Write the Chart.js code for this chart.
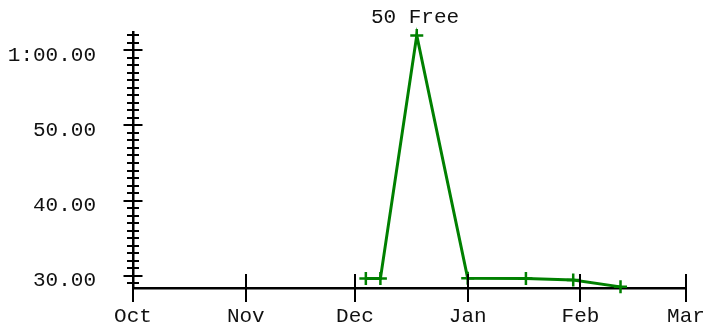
<!DOCTYPE html>
<html>
<head>
<meta charset="utf-8">
<script src="https://cdn.jsdelivr.net/npm/chart.js@4"></script>
<style>
  html, body { margin: 0; padding: 0; background: #fff; }
  #wrap { width: 706px; height: 329px; }
</style>
</head>
<body>
<div id="wrap"><canvas id="c" width="706" height="329"></canvas></div>
<script>
// 50 free times across the season (seconds)
const chartTitle = '50 Free';
const swimDates = ['2015-12-04', '2015-12-08', '2015-12-18', '2016-01-01', '2016-01-17', '2016-01-30', '2016-02-12'];
const swimTimes = [29.6, 29.6, 62.0, 29.65, 29.6, 29.4, 28.5];

// x axis: month starts as days since Oct 1
const seasonStart = '2015-10-01';
const monthDays = [0, 31, 61, 92, 123, 152];
const monthLabels = ['Oct', 'Nov', 'Dec', 'Jan', 'Feb', 'Mar'];

// y axis: labelled every 10s, small tick every second
const yMajor = [30, 40, 50, 60];
const yMajorLabels = ['30.00', '40.00', '50.00', '1:00.00'];
const yMin = 28.35, yMax = 62.45;

const FONT = "'Liberation Mono', 'Courier New', monospace";
const GREEN = '#008000';

function dayOf(s) {
    return (Date.parse(s + 'T00:00:00Z') - Date.parse(seasonStart + 'T00:00:00Z')) / 86400000;
}

const points = swimDates.map((d, i) => ({ x: dayOf(d), y: swimTimes[i] }));

// no extra room for edge labels, the plot box is set by layout padding
function noPad(s) {
    s.paddingLeft = s.paddingRight = s.paddingTop = s.paddingBottom = 0;
}

// tick marks that cross the axis lines, plus the title
const axisMarks = {
    id: 'axisMarks',
    afterDraw(chart) {
        const ctx = chart.ctx;
        const xs = chart.scales.x, ys = chart.scales.y;
        const ax = chart.chartArea.left, ay = chart.chartArea.bottom;
        ctx.save();
        ctx.strokeStyle = '#000';
        ctx.lineWidth = 2;
        ctx.beginPath();
        ys.ticks.forEach(t => {
            const py = Math.round(ys.getPixelForValue(t.value));
            const h = yMajor.includes(t.value) ? 9.5 : 6;
            ctx.moveTo(ax - h, py);
            ctx.lineTo(ax + h, py);
        });
        xs.ticks.forEach(t => {
            const px = Math.round(xs.getPixelForValue(t.value));
            ctx.moveTo(px, ay - 14);
            ctx.lineTo(px, ay + 14);
        });
        ctx.stroke();

        ctx.fillStyle = '#111';
        ctx.font = '21px ' + FONT;
        ctx.textAlign = 'center';
        ctx.textBaseline = 'alphabetic';
        ctx.fillText(chartTitle, 415, 23);
        ctx.restore();
    }
};

new Chart(document.getElementById('c'), {
    type: 'line',
    data: {
        datasets: [{
            data: points,
            borderColor: GREEN,
            backgroundColor: GREEN,
            borderWidth: 3,
            tension: 0,
            fill: false,
            pointStyle: 'cross',
            pointRadius: 6.5,
            pointBorderWidth: 2.5,
            pointBorderColor: GREEN,
            clip: false
        }]
    },
    options: {
        responsive: false,
        animation: false,
        events: [],
        layout: { padding: { left: 0, right: 20, top: 32, bottom: 0 } },
        plugins: { legend: { display: false }, tooltip: { enabled: false }, title: { display: false } },
        scales: {
            x: {
                type: 'linear',
                min: monthDays[0],
                max: monthDays[monthDays.length - 1],
                afterBuildTicks: s => { s.ticks = monthDays.map(v => ({ value: v })); },
                afterFit: s => { s.height = 41; noPad(s); },
                grid: { display: false, drawTicks: false },
                border: { display: true, color: '#000', width: 2.5 },
                ticks: {
                    autoSkip: false,
                    maxRotation: 0,
                    padding: 16,
                    color: '#111',
                    font: { family: FONT, size: 21 },
                    callback: v => monthLabels[monthDays.indexOf(v)] ?? ''
                }
            },
            y: {
                type: 'linear',
                min: yMin,
                max: yMax,
                afterBuildTicks: s => {
                    const t = [];
                    for (let v = Math.ceil(yMin); v <= Math.floor(yMax); v++) t.push({ value: v });
                    s.ticks = t;
                },
                afterFit: s => { s.width = 133; noPad(s); },
                grid: { display: false, drawTicks: false },
                border: { display: true, color: '#000', width: 2.5 },
                ticks: {
                    autoSkip: false,
                    padding: 37,
                    labelOffset: 5,
                    color: '#111',
                    font: { family: FONT, size: 21 },
                    callback: v => {
                        const i = yMajor.indexOf(v);
                        return i >= 0 ? yMajorLabels[i] : '';
                    }
                }
            }
        }
    },
    plugins: [axisMarks]
});
</script>
</body>
</html>
